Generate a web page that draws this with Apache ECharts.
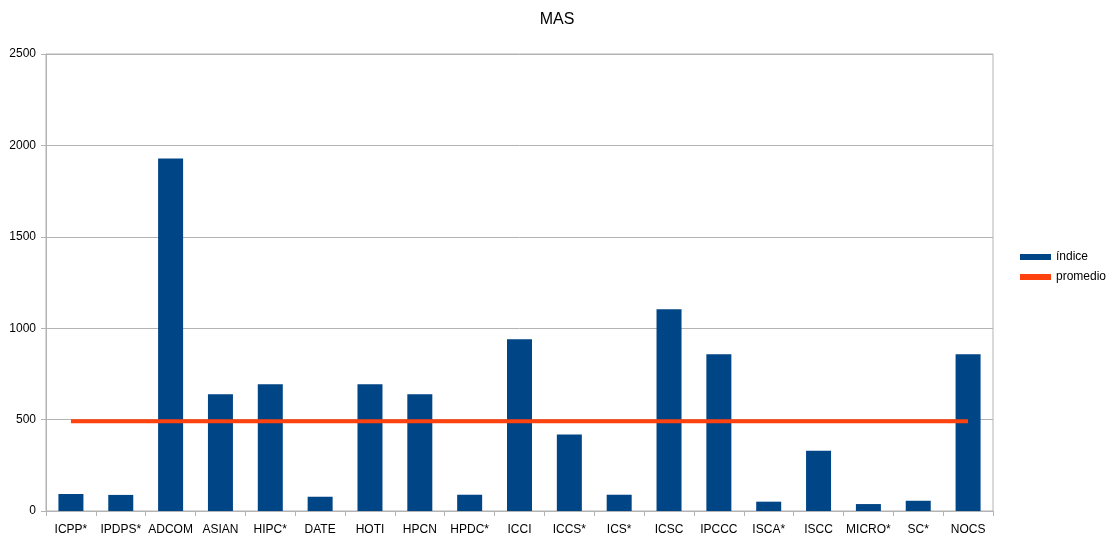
<!DOCTYPE html>
<html>
<head>
<meta charset="utf-8">
<script src="https://cdn.jsdelivr.net/npm/echarts@6/dist/echarts.min.js"></script>
<style>html,body{margin:0;padding:0;background:#fff;}#c{width:1114px;height:537px;}</style>
</head>
<body>
<div id="c"></div>
<script>
const categories = ["ICPP*","IPDPS*","ADCOM","ASIAN","HIPC*","DATE","HOTI","HPCN","HPDC*","ICCI","ICCS*","ICS*","ICSC","IPCCC","ISCA*","ISCC","MICRO*","SC*","NOCS"];
const indice = [93, 88, 1929, 638, 693, 78, 693, 638, 89, 939, 419, 89, 1103, 857, 51, 330, 38, 56, 857];
const promedio = [491,491,491,491,491,491,491,491,491,491,491,491,491,491,491,491,491,491,491];
const yTicks = { min: 0, max: 2500, interval: 500 };

const chart = echarts.init(document.getElementById('c'), null, {renderer: 'canvas'});
const font = '"Liberation Sans", Arial, sans-serif';
chart.setOption({
  animation: false,
  backgroundColor: '#ffffff',
  title: {
    text: 'MAS', left: 'center', top: 7,
    textStyle: { fontFamily: font, fontSize: 16, fontWeight: 'normal', color: '#000' }
  },
  grid: {
    left: 46, right: 121, top: 54, bottom: 26,
    show: true, borderColor: '#b3b3b3', borderWidth: 1
  },
  legend: {
    orient: 'vertical', left: 1015, top: 246, itemGap: 8,
    itemWidth: 31, itemHeight: 6,
    textStyle: { fontFamily: font, fontSize: 12, color: '#000' },
    data: [
      { name: 'índice', icon: 'rect' },
      { name: 'promedio', icon: 'rect' }
    ]
  },
  xAxis: {
    type: 'category', data: categories, boundaryGap: true,
    axisLine: { lineStyle: { color: '#b3b3b3' } },
    axisTick: { show: true, length: 5, lineStyle: { color: '#b3b3b3' } },
    axisLabel: { fontFamily: font, fontSize: 12, color: '#000', margin: 13, interval: 0 },
    splitLine: { show: false }
  },
  yAxis: {
    type: 'value', min: yTicks.min, max: yTicks.max, interval: yTicks.interval,
    axisLine: { show: true, lineStyle: { color: '#b3b3b3' } },
    axisTick: { show: true, length: 5, lineStyle: { color: '#b3b3b3' } },
    axisLabel: { fontFamily: font, fontSize: 12, color: '#000', margin: 10, formatter: function (v) { return String(v); } },
    splitLine: { lineStyle: { color: '#b3b3b3' } }
  },
  series: [
    {
      name: 'índice', type: 'bar', data: indice, barWidth: 25,
      itemStyle: { color: '#004586' }, z: 2
    },
    {
      name: 'promedio', type: 'line', data: promedio, symbol: 'none',
      lineStyle: { color: '#ff420e', width: 4 }, itemStyle: { color: '#ff420e' }, z: 3
    }
  ]
});
</script>
</body>
</html>
